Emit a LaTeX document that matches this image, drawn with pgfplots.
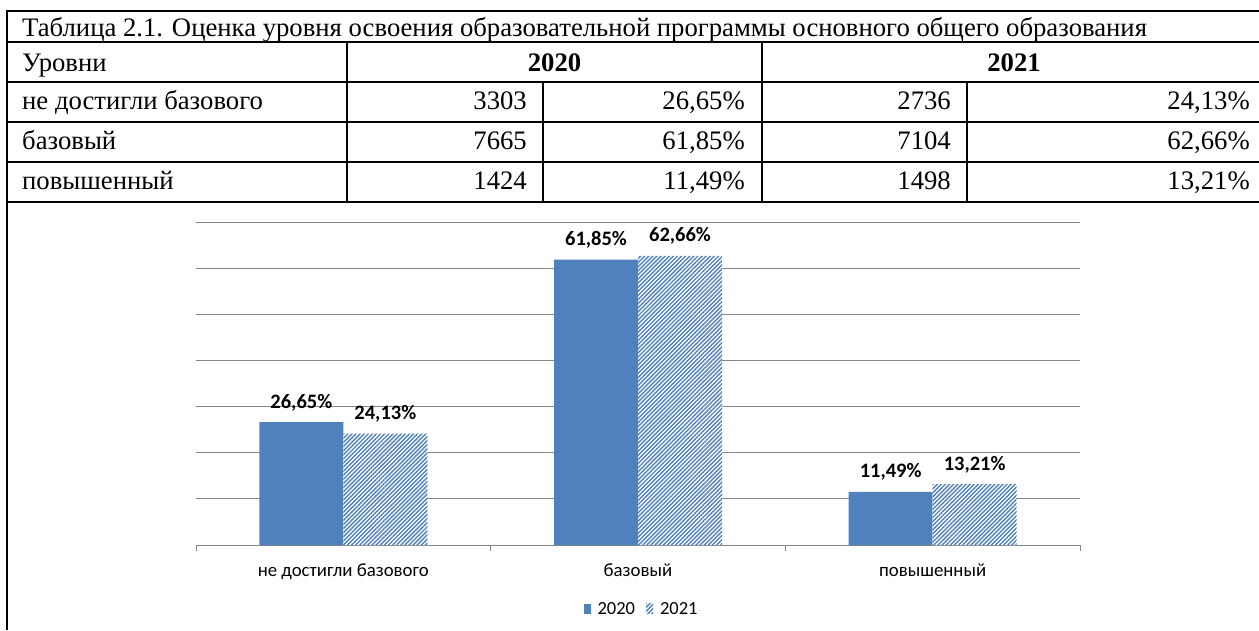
\documentclass[border=0pt]{standalone}
\usepackage{fontspec}
\setmainfont{Liberation Serif}
\newfontfamily\calibri{Carlito}
\usepackage{pgfplots}
\pgfplotsset{compat=1.18}
\usetikzlibrary{patterns.meta}
\definecolor{barblue}{HTML}{4F81BD}
\definecolor{gridgray}{HTML}{868686}
\begin{document}
\begin{tikzpicture}
\useasboundingbox (0,0) rectangle (1259pt,630pt);
\begin{scope}[line width=1.6pt]
\foreach \y in {619,588,548,508,468,428} \draw (6.2pt,\y pt) -- (1259pt,\y pt);
\draw (7pt,619.8pt) -- (7pt,0pt);
\draw (347pt,588pt) -- (347pt,428pt);
\draw (762pt,588pt) -- (762pt,428pt);
\draw (543pt,548pt) -- (543pt,428pt);
\draw (967pt,548pt) -- (967pt,428pt);
\end{scope}
\tikzset{tt/.style={inner sep=0pt, font=\fontsize{26.7}{30}\selectfont}}
\node[tt, anchor=base west] at (22pt,593pt) {Таблица 2.1. Оценка уровня освоения образовательной программы основного общего образования};
\node[tt, anchor=base west] at (22pt,558pt) {Уровни};
\node[tt, anchor=base] at (554.5pt,558pt) {\bfseries 2020};
\node[tt, anchor=base] at (1014pt,558pt) {\bfseries 2021};
\node[tt, anchor=base west] at (22pt,520pt) {не достигли базового};
\node[tt, anchor=base west] at (22pt,480pt) {базовый};
\node[tt, anchor=base west] at (22pt,440pt) {повышенный};
\node[tt, anchor=base east] at (527pt,520pt) {3303};
\node[tt, anchor=base east] at (527pt,480pt) {7665};
\node[tt, anchor=base east] at (527pt,440pt) {1424};
\node[tt, anchor=base east] at (745pt,520pt) {26,65\%};
\node[tt, anchor=base east] at (745pt,480pt) {61,85\%};
\node[tt, anchor=base east] at (745pt,440pt) {11,49\%};
\node[tt, anchor=base east] at (951pt,520pt) {2736};
\node[tt, anchor=base east] at (951pt,480pt) {7104};
\node[tt, anchor=base east] at (951pt,440pt) {1498};
\node[tt, anchor=base east] at (1250pt,520pt) {24,13\%};
\node[tt, anchor=base east] at (1250pt,480pt) {62,66\%};
\node[tt, anchor=base east] at (1250pt,440pt) {13,21\%};
\begin{axis}[
  at={(196pt,85pt)}, anchor=south west, scale only axis,
  width=884pt, height=323pt,
  xmin=-0.5, xmax=2.5, ymin=0, ymax=70,
  ybar=0pt, bar width=84pt,
  axis x line*=bottom, axis y line*=left,
  y axis line style={draw=none},
  x axis line style={gridgray, line width=1pt, -},
  ytick={0,10,...,70}, yticklabels={}, ytick style={draw=none},
  ymajorgrids, grid style={gridgray, line width=1pt},
  xtick={0,1,2}, xticklabels={не достигли базового, базовый, повышенный},
  major x tick style={draw=none},
  minor xtick={-0.5,0.5,1.5,2.5}, minor x tick style={gridgray, line width=1pt},
  minor tick length=6pt, tick align=outside,
  xticklabel style={font=\calibri\fontsize{18.8}{18}\selectfont, anchor=base, yshift=-27pt, inner sep=0pt},
  nodes near coords={\pgfplotspointmeta}, point meta=explicit symbolic,
  nodes near coords style={font=\calibri\bfseries\fontsize{20.5}{20}\selectfont, anchor=base, yshift=14pt, inner sep=0pt, text=black},
  legend style={at={(0.504,-0.198)}, anchor=center, draw=none, fill=none, legend columns=2,
     font=\calibri\fontsize{18.5}{18}\selectfont,
     /tikz/every odd column/.append style={column sep=5pt},
     /tikz/every even column/.append style={column sep=9pt}},
  legend image code/.code={\fill[#1] (0pt,-5pt) rectangle (7pt,5pt);},
]
\addplot[draw=none, fill=barblue] coordinates {(0,26.65) [26,65\%] (1,61.85) [61,85\%] (2,11.49) [11,49\%]};
\addplot[draw=none, fill=white, postaction={pattern={Lines[angle=45,distance=2.9pt,line width=1.4pt]}, pattern color=barblue}] coordinates {(0,24.13) [24,13\%] (1,62.66) [62,66\%] (2,13.21) [13,21\%]};
\legend{2020,2021}
\end{axis}
\end{tikzpicture}
\end{document}
